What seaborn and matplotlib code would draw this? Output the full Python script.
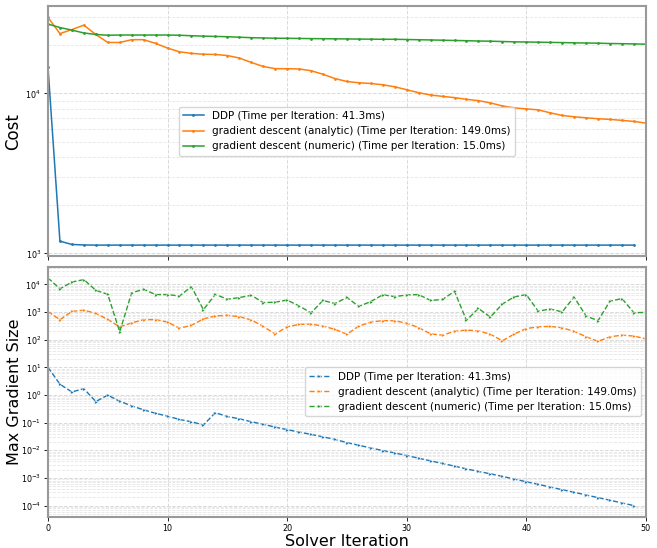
import numpy as np
import pandas as pd
import matplotlib
matplotlib.use("Agg")
import matplotlib.pyplot as plt
import seaborn as sns

labels = ["DDP (Time per Iteration: 41.3ms)",
          "gradient descent (analytic) (Time per Iteration: 149.0ms)",
          "gradient descent (numeric) (Time per Iteration: 15.0ms)"]

ddp_cost = [14700, 1192, 1137, 1128, 1126, 1126, 1126, 1126, 1126, 1126,
            1126, 1126, 1126, 1126, 1126, 1126, 1126, 1126, 1126, 1126,
            1126, 1126, 1126, 1126, 1126, 1126, 1126, 1126, 1126, 1126,
            1126, 1126, 1126, 1126, 1126, 1126, 1126, 1126, 1126, 1126,
            1126, 1126, 1126, 1126, 1126, 1126, 1126, 1126, 1126, 1126]
gd_analytic_cost = [29850, 23660, 25050, 26710, 23350, 20810, 20810, 21660, 21660, 20540,
                    19190, 18200, 17790, 17570, 17510, 17240, 16640, 15610, 14740, 14280,
                    14260, 14220, 13860, 13170, 12380, 11870, 11650, 11530, 11320, 11000,
                    10540, 10100, 9770, 9580, 9410, 9180, 9010, 8720, 8350, 8120,
                    8000, 7890, 7560, 7280, 7140, 7040, 6940, 6880, 6780, 6680, 6520]
gd_numeric_cost = [27130, 25800, 24870, 23860, 23350, 23090, 23160, 23160, 23160, 23160,
                   23160, 23090, 22930, 22800, 22700, 22610, 22450, 22300, 22200, 22130,
                   22100, 22050, 22000, 21970, 21930, 21900, 21850, 21820, 21800, 21780,
                   21720, 21650, 21580, 21500, 21420, 21350, 21250, 21200, 21100, 21000,
                   20950, 20900, 20830, 20780, 20700, 20650, 20600, 20500, 20450, 20380, 20310]

ddp_grad = [10.0, 2.45, 1.28, 1.69, 0.575, 0.985, 0.590, 0.403, 0.289, 0.217,
            0.1705, 0.1298, 0.1073, 0.0823, 0.228, 0.1663, 0.1375, 0.1073, 0.0872, 0.0686,
            0.0558, 0.0454, 0.0375, 0.0305, 0.0248, 0.01887, 0.0151, 0.01208, 0.00974, 0.00799,
            0.00644, 0.00515, 0.00412, 0.00332, 0.00266, 0.00212, 0.00171, 0.001405, 0.001133, 0.000906,
            0.000725, 0.000584, 0.000467, 0.000374, 0.000302, 0.000241, 0.000193, 0.0001555, 0.0001244, 0.0000995]
gd_analytic_grad = [1045, 526, 1054, 1163, 893, 539, 292, 403, 530, 530,
                    431, 258, 331, 562, 720, 757, 680, 517, 302, 160,
                    290, 356, 365, 310, 236, 157, 310, 431, 488, 480,
                    397, 273, 162, 145, 201, 222, 208, 157, 91, 160,
                    252, 292, 302, 269, 200, 128, 87, 127, 145, 135, 107]
gd_numeric_grad = [17130, 6890, 12090, 14880, 6087, 4372, 193, 4950, 6613, 4265,
                   4265, 3798, 8268, 1213, 4372, 2891, 3328, 4024, 2199, 2255,
                   2706, 1661, 930, 2618, 2025, 3355, 1594, 2390, 4195, 3614,
                   4125, 4265, 2618, 2843, 5603, 500, 1350, 652, 1943, 3526,
                   4265, 1071, 1285, 1011, 3468, 720, 484, 2450, 3064, 946, 970]

def long_df(series, col):
    frames = []
    for lab, vals in zip(labels, series):
        frames.append(pd.DataFrame({"iter": np.arange(len(vals)), col: vals, "method": lab}))
    return pd.concat(frames, ignore_index=True)

df_cost = long_df([ddp_cost, gd_analytic_cost, gd_numeric_cost], "cost")
df_grad = long_df([ddp_grad, gd_analytic_grad, gd_numeric_grad], "grad")

palette = {labels[0]: "#1f77b4", labels[1]: "#ff7f0e", labels[2]: "#2ca02c"}

fig, (ax1, ax2) = plt.subplots(2, 1, figsize=(6.57, 5.48), dpi=100, sharex=True)
fig.subplots_adjust(left=0.073, right=0.983, top=0.989, bottom=0.0566, hspace=0.04)

sns.lineplot(data=df_cost, x="iter", y="cost", hue="method", palette=palette,
             marker=".", markersize=4, markeredgewidth=0, linewidth=1.1, ax=ax1)
sns.lineplot(data=df_grad, x="iter", y="grad", hue="method", palette=palette,
             marker=">", markersize=2.5, markeredgewidth=0.3, linewidth=1.0,
             linestyle="--", ax=ax2)

for ax in (ax1, ax2):
    ax.set_yscale("log")
    ax.set_xlim(0, 50)
    ax.grid(True, which="major", linestyle="--", color="0.85", linewidth=0.7)
    ax.grid(True, which="minor", linestyle="--", color="0.9", linewidth=0.6)
    ax.tick_params(labelsize=5.8, width=0.6, length=3, pad=2)
    ax.tick_params(which="minor", length=0)
    for sp in ax.spines.values():
        sp.set_color("0.6")
        sp.set_linewidth(1.5)

ax1.set_xlabel("")
ax1.set_ylabel("Cost", fontsize=12)
ax2.set_ylabel("Max Gradient Size", fontsize=11.5)
ax2.set_xlabel("Solver Iteration", fontsize=11.5, labelpad=1)
ax1.yaxis.set_label_coords(-0.044, 0.5)
ax2.yaxis.set_label_coords(-0.044, 0.5)

ax1.legend(loc="center", fontsize=7.5, framealpha=0.8)
ax2.legend(loc="center right", fontsize=7.5, framealpha=0.8)

fig.savefig("out.png", dpi=100)
